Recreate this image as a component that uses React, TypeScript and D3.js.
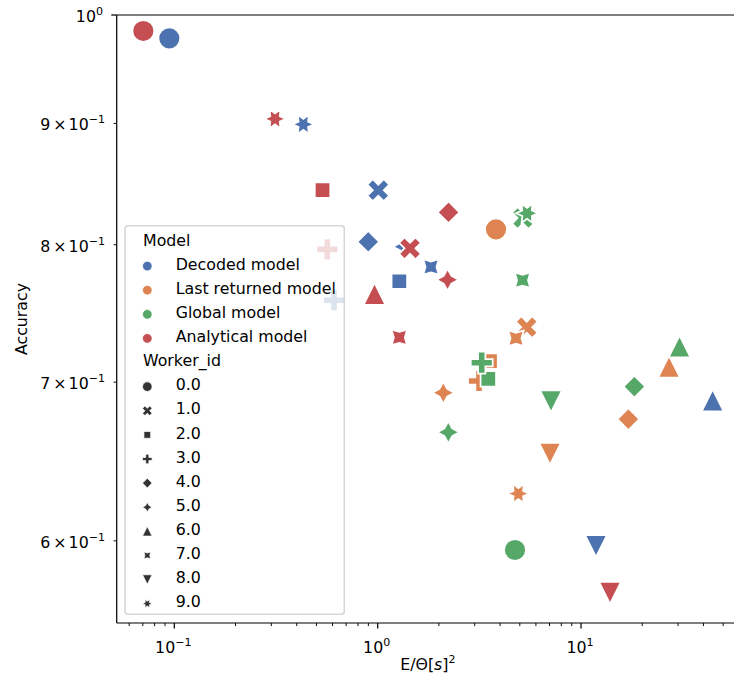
import React from 'react';
import * as d3 from 'd3';

// hue levels and seaborn "deep" palette
const models = ['Decoded model', 'Last returned model', 'Global model', 'Analytical model'];
const modelColors = ['#4C72B0', '#DD8452', '#55A868', '#C44E52'];
const workerIds = ['0.0', '1.0', '2.0', '3.0', '4.0', '5.0', '6.0', '7.0', '8.0', '9.0'];

// E/Theta[s]^2 and accuracy for workers 0..9, one pair of arrays per model
const decodedE = [0.0945, 1.007, 1.278, 0.61, 0.899, 1.348, 44.4, 1.829, 11.85, 0.431];
const decodedAcc = [0.9776, 0.8435, 0.7721, 0.758, 0.8023, 0.7985, 0.6877, 0.7829, 0.597, 0.8992];
const lastE = [3.819, 5.408, 3.568, 3.15, 17.09, 2.103, 27.09, 4.789, 7.039, 4.916];
const lastAcc = [0.812, 0.7384, 0.7145, 0.7008, 0.6753, 0.6929, 0.7107, 0.7305, 0.653, 0.6282];
const globalE = [4.735, 5.186, 3.5, 3.249, 18.29, 2.226, 30.51, 5.157, 7.119, 5.427];
const globalAcc = [0.5947, 0.821, 0.7022, 0.7134, 0.697, 0.6667, 0.7247, 0.7729, 0.6871, 0.8248];
const analyticE = [0.0704, 1.442, 0.5356, 0.5655, 2.231, 2.206, 0.965, 1.278, 13.89, 0.3128];
const analyticAcc = [0.9846, 0.7972, 0.8435, 0.7964, 0.8256, 0.7733, 0.7627, 0.7311, 0.5704, 0.904];

const xTickMajor = [0.1, 1, 10];
const yTickLabeled = [0.6, 0.7, 0.8, 0.9];

const W = 734;
const H = 690;
const FONT = 'DejaVu Sans, sans-serif';
const FS = 15.8;

const x = d3.scaleLog().domain([Math.pow(10, -1.2833), Math.pow(10, 1.7783)]).range([116.7, 739.3]);
const y = d3.scaleLog().domain([Math.pow(10, -0.2565), 1]).range([623, 15]);

const closedLine = d3.line().curve(d3.curveLinearClosed);
const closedRadial = d3.lineRadial().curve(d3.curveLinearClosed);

// matplotlib-like markers, S = full marker size in px
function regular(n: number, r: number, rotDeg: number, star: boolean) {
  const pts: [number, number][] = [];
  const m = star ? n * 2 : n;
  for (let i = 0; i < m; i++) {
    const a = (rotDeg * Math.PI) / 180 + (i * 2 * Math.PI) / m;
    pts.push([a, star && i % 2 === 1 ? r / 2 : r]);
  }
  return closedRadial(pts) as string;
}
function scaled(pts: number[][], k: number) {
  return closedLine(pts.map((p) => [p[0] * k, -p[1] * k] as [number, number])) as string;
}
function markerPath(id: number, S: number): string {
  const r = S / 2;
  switch (id) {
    case 0:
      return d3.symbol(d3.symbolCircle, Math.PI * r * r)() as string;
    case 1:
      return scaled([[-1, -2], [0, -1], [1, -2], [2, -1], [1, 0], [2, 1], [1, 2], [0, 1], [-1, 2], [-2, 1], [-1, 0], [-2, -1]], S / 4);
    case 2:
      return regular(4, r, 45, false);
    case 3:
      return scaled([[-1, -3], [1, -3], [1, -1], [3, -1], [3, 1], [1, 1], [1, 3], [-1, 3], [-1, 1], [-3, 1], [-3, -1], [-1, -1]], S / 6);
    case 4:
      return regular(4, r, 0, false);
    case 5:
      return regular(4, r, 0, true);
    case 6:
      return scaled([[0, 1], [-1, -1], [1, -1]], r);
    case 7:
      return regular(4, r, 45, true);
    case 8:
      return scaled([[0, -1], [-1, 1], [1, 1]], r);
    default:
      return regular(6, r, 30, true);
  }
}

const series = [
  { e: decodedE, acc: decodedAcc },
  { e: lastE, acc: lastAcc },
  { e: globalE, acc: globalAcc },
  { e: analyticE, acc: analyticAcc },
];

const points = series.flatMap((s, m) =>
  s.e.map((e, w) => ({ m, w, e, acc: s.acc[w] }))
);

function minorTicks(lo: number, hi: number) {
  const out: number[] = [];
  for (let p = Math.floor(Math.log10(lo)); p <= Math.ceil(Math.log10(hi)); p++) {
    for (let k = 2; k <= 9; k++) {
      const v = k * Math.pow(10, p);
      if (v >= lo && v <= hi) out.push(v);
    }
  }
  return out;
}

const Pow10 = ({ exp, x0, y0, anchor }: { exp: string; x0: number; y0: number; anchor: string }) => (
  <text x={x0} y={y0} textAnchor={anchor} fontSize={FS} fontFamily={FONT} fill="#000">
    10
    <tspan fontSize={FS * 0.7} dy={-FS * 0.45}>{exp}</tspan>
  </text>
);

export default function App() {
  const [x0, x1] = x.range();
  const [yb, yt] = y.range();
  const xMinor = minorTicks(x.domain()[0], x.domain()[1]);
  const rowY = (i: number) => 240 + i * 24.11;

  return (
    <svg width={W} height={H} style={{ position: 'fixed', left: 0, top: 0, background: '#fff' }}>
      <rect width={W} height={H} fill="#fff" />
      {points.map((p, i) => (
        <path
          key={i}
          d={markerPath(p.w, 21.9)}
          transform={`translate(${x(p.e)},${y(p.acc)})`}
          fill={modelColors[p.m]}
          stroke="#fff"
          strokeWidth={1.75}
          strokeLinejoin="miter"
        />
      ))}

      {/* spines */}
      <line x1={x0} x2={x0} y1={yt} y2={yb} stroke="#000" strokeWidth={1.24} />
      <line x1={x0} x2={x1} y1={yb} y2={yb} stroke="#000" strokeWidth={1.24} />
      <line x1={x0} x2={x1} y1={yt} y2={yt} stroke="#000" strokeWidth={1.24} />
      <line x1={x1} x2={x1} y1={yt} y2={yb} stroke="#000" strokeWidth={1.24} />

      {/* x ticks */}
      {xTickMajor.map((t) => (
        <g key={'xm' + t}>
          <line x1={x(t)} x2={x(t)} y1={yb} y2={yb + 5.4} stroke="#000" strokeWidth={1.24} />
          <Pow10 exp={t === 0.1 ? '\u22121' : t === 1 ? '0' : '1'} x0={x(t) - 1} y0={653} anchor="middle" />
        </g>
      ))}
      {xMinor.map((t) => (
        <line key={'xn' + t} x1={x(t)} x2={x(t)} y1={yb} y2={yb + 3.1} stroke="#000" strokeWidth={0.95} />
      ))}

      {/* y ticks */}
      <line x1={x0} x2={x0 - 5.4} y1={y(1)} y2={y(1)} stroke="#000" strokeWidth={1.24} />
      <Pow10 exp="0" x0={103} y0={y(1) + 7} anchor="end" />
      {yTickLabeled.map((t) => (
        <g key={'y' + t}>
          <line x1={x0} x2={x0 - 3.1} y1={y(t)} y2={y(t)} stroke="#000" strokeWidth={0.95} />
          <text x={105} y={y(t) + 7} textAnchor="end" fontSize={FS} fontFamily={FONT} fill="#000">
            {Math.round(t * 10)}
            <tspan dx={3}>×</tspan>
            <tspan dx={2}>10</tspan>
            <tspan fontSize={FS * 0.7} dy={-FS * 0.45}>{'\u22121'}</tspan>
          </text>
        </g>
      ))}

      {/* axis labels */}
      <text x={(x0 + 733) / 2 + 3} y={670} textAnchor="middle" fontSize={FS} fontFamily={FONT} fill="#000">
        E/Θ[<tspan fontStyle="italic">s</tspan>]
        <tspan fontSize={FS * 0.7} dy={-FS * 0.45}>2</tspan>
      </text>
      <text
        transform={`translate(26.5,${(yt + yb) / 2}) rotate(-90)`}
        textAnchor="middle"
        fontSize={FS}
        fontFamily={FONT}
        fill="#000"
      >
        Accuracy
      </text>

      {/* legend */}
      <rect x={125} y={225.7} width={219.3} height={388.6} rx={3} fill="#fff" fillOpacity={0.8} stroke="#cccccc" strokeOpacity={0.8} strokeWidth={1.5} />
      <text x={143} y={rowY(0) + 5.7} fontSize={FS} fontFamily={FONT} fill="#000">Model</text>
      {models.map((m, i) => (
        <g key={m}>
          <path d={markerPath(0, 9.6)} transform={`translate(147.3,${rowY(i + 1) + 2})`} fill={modelColors[i]} stroke="#fff" strokeWidth={0.75} />
          <text x={175.7} y={rowY(i + 1) + 5.7} fontSize={FS} fontFamily={FONT} fill="#000">{m}</text>
        </g>
      ))}
      <text x={143} y={rowY(5) + 5.7} fontSize={FS} fontFamily={FONT} fill="#000">Worker_id</text>
      {workerIds.map((w, i) => (
        <g key={w}>
          <path d={markerPath(i, 9.6)} transform={`translate(147.3,${rowY(i + 6) + 2})`} fill="#333333" stroke="#fff" strokeWidth={0.75} />
          <text x={175.7} y={rowY(i + 6) + 5.7} fontSize={FS} fontFamily={FONT} fill="#000">{w}</text>
        </g>
      ))}
    </svg>
  );
}
